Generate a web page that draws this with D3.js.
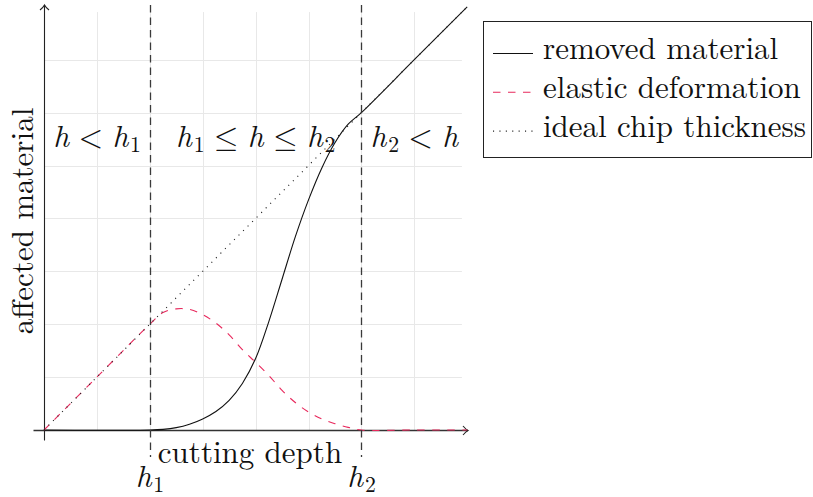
<!DOCTYPE html>
<html>
<head>
<meta charset="utf-8">
<script src="https://cdn.jsdelivr.net/npm/d3@7"></script>
<style>
  html, body { margin: 0; padding: 0; background: #fff; }
  svg { display: block; }
</style>
</head>
<body>
<svg id="chart" width="813" height="497"></svg>
<script>
// cutting depth samples (x) and the affected material for each curve
const removedX = [0, 2, 2.25, 2.5, 2.75, 3, 3.25, 3.5, 3.75, 4, 4.25, 4.5, 4.75, 5, 5.25, 5.5, 5.75, 6, 7, 8];
const removedY = [0, 0, 0.012, 0.045, 0.11, 0.21, 0.35, 0.56, 0.88, 1.35, 2.05, 2.85, 3.65, 4.35, 4.95, 5.43, 5.78, 6, 7, 8];

const elasticX = [0, 1, 2, 2.25, 2.5, 2.75, 3, 3.25, 3.5, 3.75, 4, 4.25, 4.5, 4.75, 5, 5.25, 5.5, 5.75, 6, 7, 8];
const elasticY = [0, 1, 2, 2.22, 2.29, 2.28, 2.18, 2.02, 1.8, 1.52, 1.28, 1.03, 0.75, 0.52, 0.34, 0.21, 0.12, 0.05, 0, 0, 0];

const idealX = [0, 8];
const idealY = [0, 8];

// regime boundaries
const h1 = 2, h2 = 6;
const gridTicks = [0, 1, 2, 3, 4, 5, 6, 7];
const gridMax = 7.9;

const legendLabels = ["removed material", "elastic deformation", "ideal chip thickness"];

const FONT = "'Latin Modern Roman'";
const MATHFONT = "'Latin Modern Math', 'Latin Modern Roman'";

const svg = d3.select("#chart");

const x = d3.scaleLinear().domain([0, 8]).range([44, 467.2]);
const y = d3.scaleLinear().domain([0, 8]).range([430, 6.8]);

const FS = 31;          // base font size
const red = "#e8285c";

// grid
const grid = svg.append("g").attr("stroke", "#e8e8e8").attr("stroke-width", 1);
grid.selectAll("line.v").data(gridTicks.slice(1)).join("line")
  .attr("x1", d => Math.round(x(d)) + 0.5).attr("x2", d => Math.round(x(d)) + 0.5)
  .attr("y1", y(0)).attr("y2", y(gridMax));
grid.selectAll("line.h").data(gridTicks.slice(1)).join("line")
  .attr("y1", d => Math.round(y(d)) + 0.5).attr("y2", d => Math.round(y(d)) + 0.5)
  .attr("x1", x(0)).attr("x2", x(gridMax));

// axes (middle style with arrow tips)
const axes = svg.append("g").attr("fill", "none").attr("stroke", "#222").attr("stroke-width", 1.1);
const x0 = Math.round(x(0)) + 0.5, y0 = Math.round(y(0)) + 0.5;
const xTip = x(8) + 0.8, yTip = 5;
axes.append("line").attr("x1", x0 - 11).attr("x2", xTip).attr("y1", y0).attr("y2", y0).attr("stroke", "#333").attr("stroke-width", 1.6);
axes.append("line").attr("x1", x0).attr("x2", x0).attr("y1", y0 + 10).attr("y2", yTip);
axes.append("path").attr("d", `M${xTip - 5},${y0 - 4.5} Q${xTip - 2},${y0 - 1} ${xTip},${y0} Q${xTip - 2},${y0 + 1} ${xTip - 5},${y0 + 4.5}`);
axes.append("path").attr("d", `M${x0 - 4.5},${yTip + 5} Q${x0 - 1},${yTip + 2} ${x0},${yTip} Q${x0 + 1},${yTip + 2} ${x0 + 4.5},${yTip + 5}`);

// curves
const line = d3.line().x(d => x(d[0])).y(d => y(d[1])).curve(d3.curveCatmullRom.alpha(0.5));
const zip = (a, b) => a.map((v, i) => [v, b[i]]);

svg.append("path").datum(zip(removedX, removedY)).attr("d", line)
  .attr("fill", "none").attr("stroke", "#111").attr("stroke-width", 1.1);
svg.append("path").datum(zip(elasticX, elasticY)).attr("d", line)
  .attr("fill", "none").attr("stroke", red).attr("stroke-width", 1.1).attr("stroke-dasharray", "7.5,7.5");
svg.append("path").datum(zip(idealX, idealY)).attr("d", d3.line().x(d => x(d[0])).y(d => y(d[1])))
  .attr("fill", "none").attr("stroke", "#222").attr("stroke-width", 1.1).attr("stroke-dasharray", "1.1,5.3");

// regime boundaries
svg.selectAll("line.bound").data([h1, h2]).join("line")
  .attr("x1", d => Math.round(x(d)) + 0.5).attr("x2", d => Math.round(x(d)) + 0.5)
  .attr("y1", 5).attr("y2", 457)
  .attr("stroke", "#3a3a3a").attr("stroke-width", 1.3).attr("stroke-dasharray", "7.5,5");

function styleText(t, size, family) {
  return t.attr("font-family", family || FONT).attr("font-size", size).attr("fill", "#111");
}

// math formula from pieces: [glyph, kind, advance(em)]
function mathText(cx, baseline, pieces) {
  const total = d3.sum(pieces, p => p[2]) * FS;
  let cur = cx - total / 2;
  const g = svg.append("g");
  pieces.forEach(p => {
    const adv = p[2] * FS;
    const t = styleText(g.append("text"), FS)
      .attr("x", cur + adv / 2).attr("y", baseline).attr("text-anchor", "middle").text(p[0]);
    if (p[1] === "var") t.attr("font-style", "italic");
    else if (p[1] === "op") t.attr("font-family", MATHFONT);
    else if (p[1] === "sub") t.attr("font-size", FS * 0.7).attr("y", baseline + 5);
    cur += adv;
  });
  return g;
}
const H_ = ["h", "var", 0.576];
const sub = d => [d, "sub", 0.4];
const rel = s => [["", "sp", 0.278], [s, "op", 0.778], ["", "sp", 0.278]];

const regionBase = 146.7;
mathText(x(1), regionBase, [H_, ...rel("<"), H_, sub("1")]);
mathText(x(4), regionBase, [H_, sub("1"), ...rel("≤"), H_, ...rel("≤"), H_, sub("2")]);
mathText(x(7), regionBase, [H_, sub("2"), ...rel("<"), H_]);

// tick labels at the boundaries
mathText(x(h1), 487, [H_, sub("1")]);
mathText(x(h2), 487, [H_, sub("2")]);

// axis labels
styleText(svg.append("text"), FS).attr("x", 250).attr("y", 463).attr("text-anchor", "middle").text("cutting depth");
styleText(svg.append("text"), FS).attr("transform", "translate(33,221) rotate(-90)").attr("text-anchor", "middle").text("affected material");

// legend
const lg = svg.append("g");
lg.append("rect").attr("x", 483.5).attr("y", 21.5).attr("width", 328).attr("height", 136)
  .attr("fill", "#fff").attr("stroke", "#222").attr("stroke-width", 1);
const styles = [
  { stroke: "#111", dash: null },
  { stroke: red, dash: "7.5,7.5" },
  { stroke: "#222", dash: "1.1,5.3" }
];
legendLabels.forEach((lab, i) => {
  const ly = 53.5 + i * 38.8;
  lg.append("line").attr("x1", 493).attr("x2", 533).attr("y1", ly).attr("y2", ly)
    .attr("stroke", styles[i].stroke).attr("stroke-width", 1.1)
    .attr("stroke-dasharray", styles[i].dash);
  styleText(lg.append("text"), FS).attr("x", 543).attr("y", ly + 5.5).text(lab);
});
</script>
</body>
</html>
